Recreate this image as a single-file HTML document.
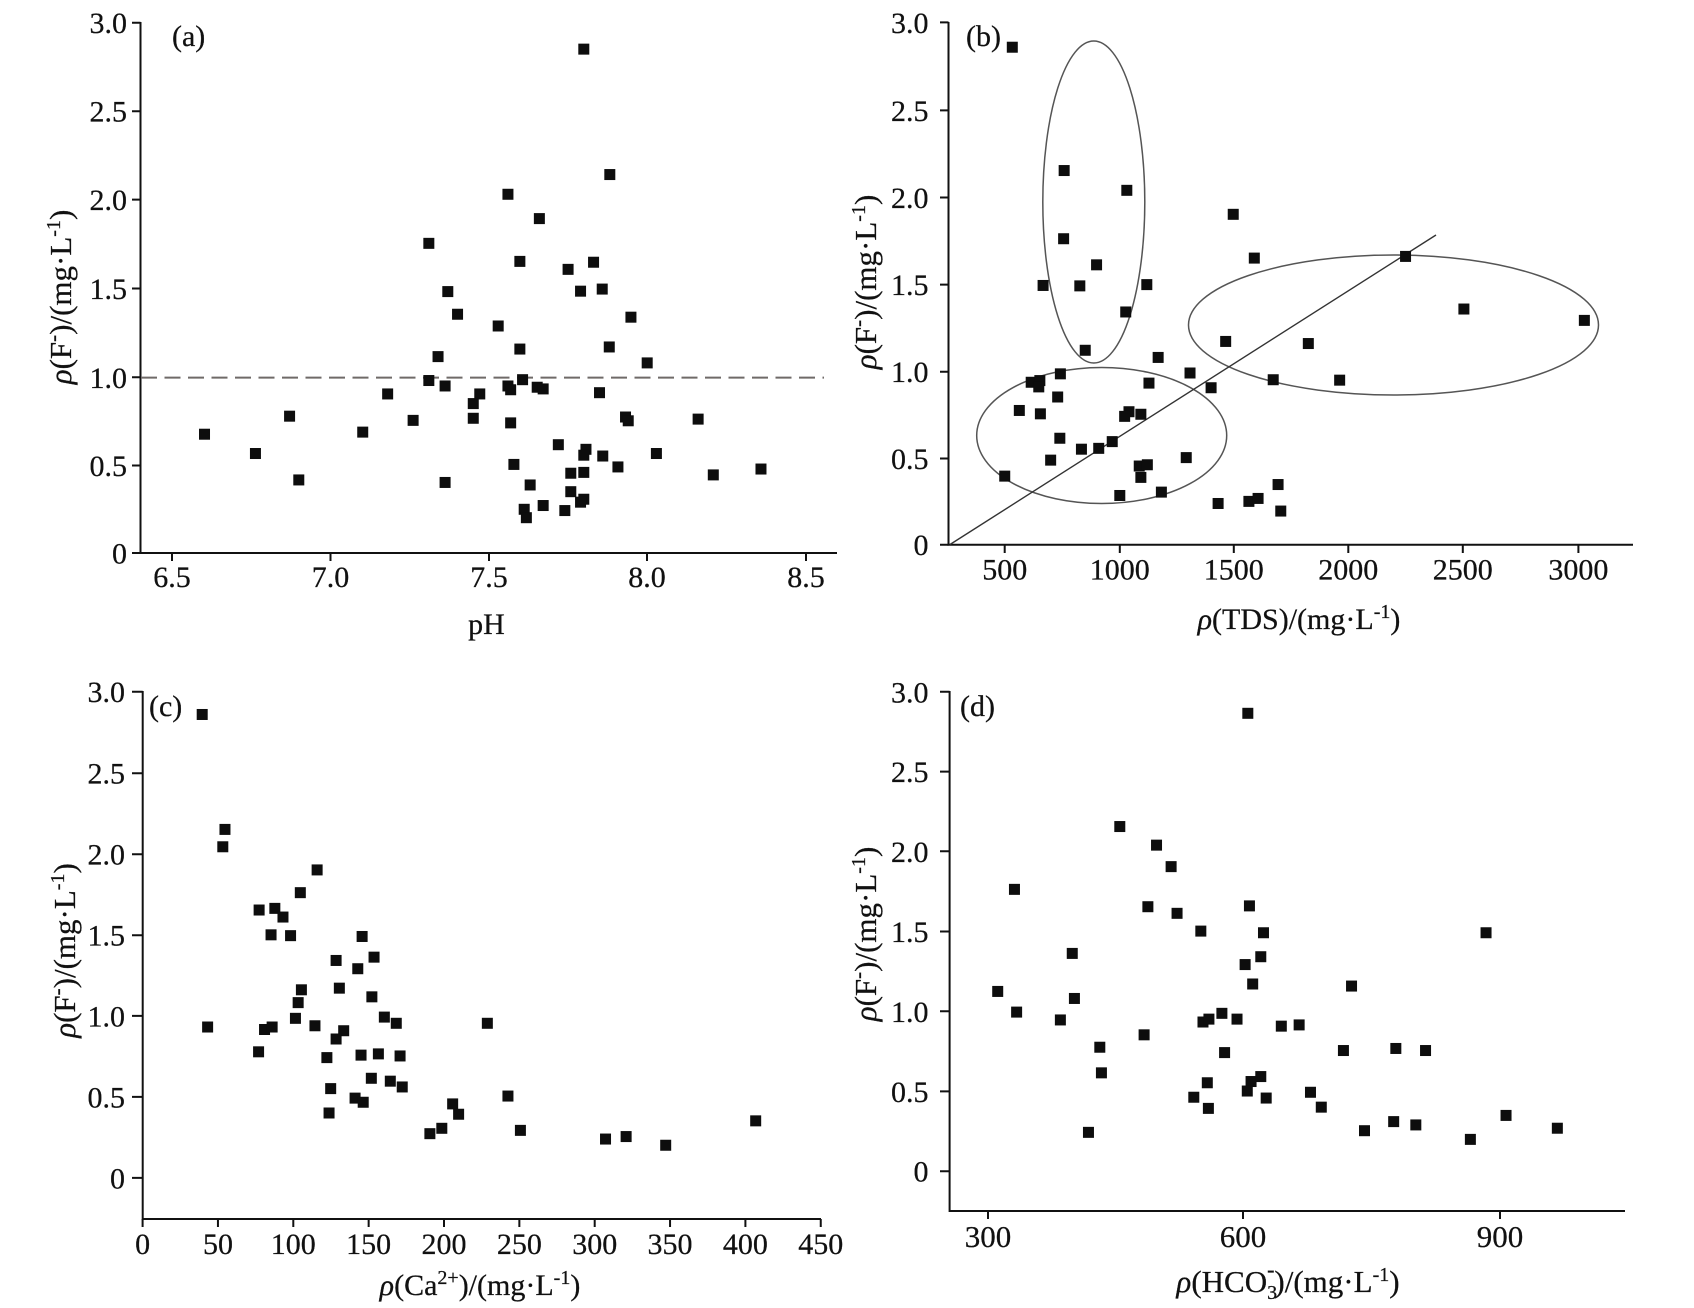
<!DOCTYPE html>
<html>
<head>
<meta charset="utf-8">
<style>
  html,body{margin:0;padding:0;background:#fff;}
  svg{display:block;}
  text{font-family:"Liberation Serif","DejaVu Serif",serif;fill:#111;stroke:#111;stroke-width:0.25;}
</style>
</head>
<body>
<svg width="1694" height="1308" viewBox="0 0 1694 1308" xmlns="http://www.w3.org/2000/svg">
<defs>
  <rect id="sa" x="-10.15" y="-13.11" width="20.3" height="26.22" fill="#0d0d0d"/>
  <rect id="sb" x="-10.18" y="-13.07" width="20.36" height="26.13" fill="#0d0d0d"/>
  <rect id="sc" x="-10.15" y="-13.3" width="20.29" height="26.61" fill="#0d0d0d"/>
  <rect id="sd" x="-10.18" y="-13.31" width="20.36" height="26.62" fill="#0d0d0d"/>
</defs>
<rect width="1694" height="1308" fill="#fff"/>

<!-- ================= PANEL (a) ================= -->
<g stroke="#111" stroke-width="2" fill="none">
  <path d="M140.5 22 V553 H837"/>
  <path d="M132 22.7H140.5 M132 111.2H140.5 M132 199.6H140.5 M132 288.5H140.5 M132 377.3H140.5 M132 465.5H140.5 M132 553H140.5"/>
  <path d="M172 553V561 M330.5 553V561 M489 553V561 M647 553V561 M806 553V561"/>
</g>
<line x1="141" y1="377.6" x2="824" y2="377.6" stroke="#6f6a68" stroke-width="2" stroke-dasharray="16 7.5"/>
<g font-size="30" text-anchor="end">
  <text x="127" y="33.2">3.0</text>
  <text x="127" y="121.7">2.5</text>
  <text x="127" y="210.1">2.0</text>
  <text x="127" y="299">1.5</text>
  <text x="127" y="387.8">1.0</text>
  <text x="127" y="476">0.5</text>
  <text x="127" y="563.5">0</text>
</g>
<g font-size="30" text-anchor="middle">
  <text x="172" y="587">6.5</text>
  <text x="330.5" y="587">7.0</text>
  <text x="489" y="587">7.5</text>
  <text x="647" y="587">8.0</text>
  <text x="806" y="587">8.5</text>
  <text x="486.5" y="634">pH</text>
</g>
<text x="172" y="46" font-size="30">(a)</text>
<text transform="translate(71,297) rotate(-90)" font-size="31" text-anchor="middle"><tspan font-style="italic">ρ</tspan>(F<tspan dy="-11" font-size="21">-</tspan><tspan dy="11">)/(mg·L</tspan><tspan dy="-11" font-size="20">-1</tspan><tspan dy="11">)</tspan></text>

<g transform="matrix(0.54184 0 0 0.41948 0.78 1.73)">
  <use href="#sa" x="1076" y="113"/>
  <use href="#sa" x="1124" y="412"/>
  <use href="#sa" x="936" y="459"/>
  <use href="#sa" x="994" y="517"/>
  <use href="#sa" x="790" y="576"/>
  <use href="#sa" x="958" y="619"/>
  <use href="#sa" x="1047" y="638"/>
  <use href="#sa" x="1094" y="621"/>
  <use href="#sa" x="825" y="691"/>
  <use href="#sa" x="1070" y="690"/>
  <use href="#sa" x="1110" y="685"/>
  <use href="#sa" x="843" y="745"/>
  <use href="#sa" x="918" y="773"/>
  <use href="#sa" x="1163" y="752"/>
  <use href="#sa" x="807" y="846"/>
  <use href="#sa" x="958" y="828"/>
  <use href="#sa" x="1123" y="823"/>
  <use href="#sa" x="1193" y="861"/>
  <use href="#sa" x="790" y="903"/>
  <use href="#sa" x="820" y="916"/>
  <use href="#sa" x="936" y="916"/>
  <use href="#sa" x="941" y="925"/>
  <use href="#sa" x="963" y="901"/>
  <use href="#sa" x="990" y="919"/>
  <use href="#sa" x="1001" y="923"/>
  <use href="#sa" x="714" y="935"/>
  <use href="#sa" x="884" y="935"/>
  <use href="#sa" x="1105" y="932"/>
  <use href="#sa" x="872" y="958"/>
  <use href="#sa" x="533" y="988"/>
  <use href="#sa" x="761" y="998"/>
  <use href="#sa" x="872" y="993"/>
  <use href="#sa" x="941" y="1004"/>
  <use href="#sa" x="1153" y="990"/>
  <use href="#sa" x="1158" y="999"/>
  <use href="#sa" x="1287" y="995"/>
  <use href="#sa" x="376" y="1031"/>
  <use href="#sa" x="668" y="1026"/>
  <use href="#sa" x="1029" y="1056"/>
  <use href="#sa" x="1080" y="1067"/>
  <use href="#sa" x="1076" y="1081"/>
  <use href="#sa" x="470" y="1077"/>
  <use href="#sa" x="1111" y="1083"/>
  <use href="#sa" x="1210" y="1077"/>
  <use href="#sa" x="947" y="1103"/>
  <use href="#sa" x="1139" y="1109"/>
  <use href="#sa" x="1403" y="1114"/>
  <use href="#sa" x="1052" y="1124"/>
  <use href="#sa" x="1076" y="1122"/>
  <use href="#sa" x="550" y="1140"/>
  <use href="#sa" x="820" y="1146"/>
  <use href="#sa" x="1315" y="1128"/>
  <use href="#sa" x="977" y="1152"/>
  <use href="#sa" x="1052" y="1168"/>
  <use href="#sa" x="1076" y="1186"/>
  <use href="#sa" x="1070" y="1193"/>
  <use href="#sa" x="966" y="1210"/>
  <use href="#sa" x="970" y="1230"/>
  <use href="#sa" x="1001" y="1201"/>
  <use href="#sa" x="1041" y="1213"/>
</g>

<!-- ================= PANEL (b) ================= -->
<g stroke="#111" stroke-width="2" fill="none">
  <path d="M948.5 22 V544.7 H1633"/>
  <path d="M940 22.4H948.5 M940 110.4H948.5 M940 197.5H948.5 M940 284.6H948.5 M940 371.7H948.5 M940 458.5H948.5 M940 544.7H948.5"/>
  <path d="M1004.7 544.7V553 M1119.8 544.7V553 M1233.8 544.7V553 M1348.3 544.7V553 M1462.8 544.7V553 M1578.4 544.7V553"/>
</g>
<g fill="none" stroke="#555" stroke-width="1.5">
  <ellipse cx="1093.8" cy="202" rx="51" ry="161"/>
  <ellipse cx="1101.7" cy="435.5" rx="125" ry="68"/>
  <ellipse cx="1393.5" cy="325" rx="205" ry="70"/>
</g>
<line x1="950" y1="544.5" x2="1436" y2="235" stroke="#333" stroke-width="1.4"/>
<g font-size="30" text-anchor="end">
  <text x="928.5" y="32.9">3.0</text>
  <text x="928.5" y="120.9">2.5</text>
  <text x="928.5" y="208">2.0</text>
  <text x="928.5" y="295.1">1.5</text>
  <text x="928.5" y="382.2">1.0</text>
  <text x="928.5" y="469">0.5</text>
  <text x="928.5" y="555.2">0</text>
</g>
<g font-size="30" text-anchor="middle">
  <text x="1004.7" y="579.7">500</text>
  <text x="1119.8" y="579.7">1000</text>
  <text x="1233.8" y="579.7">1500</text>
  <text x="1348.3" y="579.7">2000</text>
  <text x="1462.8" y="579.7">2500</text>
  <text x="1578.4" y="579.7">3000</text>
  <text x="1299" y="629"><tspan font-style="italic">ρ</tspan>(TDS)/(mg·L<tspan dy="-11" font-size="20">-1</tspan><tspan dy="11">)</tspan></text>
</g>
<text x="966" y="46" font-size="30">(b)</text>
<text transform="translate(876,282) rotate(-90)" font-size="31" text-anchor="middle"><tspan font-style="italic">ρ</tspan>(F<tspan dy="-11" font-size="21">-</tspan><tspan dy="11">)/(mg·L</tspan><tspan dy="-11" font-size="20">-1</tspan><tspan dy="11">)</tspan></text>

<g transform="matrix(0.54019 0 0 0.42091 847 0.5)">
  <use href="#sb" x="306" y="111"/>
  <use href="#sb" x="402" y="404"/>
  <use href="#sb" x="518" y="451"/>
  <use href="#sb" x="715" y="508"/>
  <use href="#sb" x="401" y="566"/>
  <use href="#sb" x="754" y="612"/>
  <use href="#sb" x="462" y="628"/>
  <use href="#sb" x="1034" y="608"/>
  <use href="#sb" x="363" y="677"/>
  <use href="#sb" x="431" y="678"/>
  <use href="#sb" x="555" y="675"/>
  <use href="#sb" x="516" y="740"/>
  <use href="#sb" x="1142" y="733"/>
  <use href="#sb" x="1365" y="760"/>
  <use href="#sb" x="701" y="810"/>
  <use href="#sb" x="854" y="815"/>
  <use href="#sb" x="441" y="831"/>
  <use href="#sb" x="576" y="848"/>
  <use href="#sb" x="635" y="885"/>
  <use href="#sb" x="395" y="887"/>
  <use href="#sb" x="341" y="907"/>
  <use href="#sb" x="357" y="903"/>
  <use href="#sb" x="355" y="918"/>
  <use href="#sb" x="559" y="909"/>
  <use href="#sb" x="789" y="901"/>
  <use href="#sb" x="912" y="902"/>
  <use href="#sb" x="674" y="920"/>
  <use href="#sb" x="390" y="942"/>
  <use href="#sb" x="319" y="974"/>
  <use href="#sb" x="358" y="982"/>
  <use href="#sb" x="522" y="977"/>
  <use href="#sb" x="514" y="988"/>
  <use href="#sb" x="544" y="983"/>
  <use href="#sb" x="394" y="1040"/>
  <use href="#sb" x="491" y="1048"/>
  <use href="#sb" x="434" y="1066"/>
  <use href="#sb" x="466" y="1064"/>
  <use href="#sb" x="377" y="1092"/>
  <use href="#sb" x="628" y="1086"/>
  <use href="#sb" x="541" y="1106"/>
  <use href="#sb" x="556" y="1103"/>
  <use href="#sb" x="544" y="1133"/>
  <use href="#sb" x="292" y="1130"/>
  <use href="#sb" x="798" y="1150"/>
  <use href="#sb" x="582" y="1168"/>
  <use href="#sb" x="505" y="1176"/>
  <use href="#sb" x="687" y="1195"/>
  <use href="#sb" x="744" y="1190"/>
  <use href="#sb" x="761" y="1183"/>
  <use href="#sb" x="803" y="1213"/>
</g>

<!-- ================= PANEL (c) ================= -->
<g stroke="#111" stroke-width="2" fill="none">
  <path d="M142.7 691 V1219 H821"/>
  <path d="M132 691.7H142.7 M132 773.2H142.7 M132 854.2H142.7 M132 935.2H142.7 M132 1015.9H142.7 M132 1096.9H142.7 M132 1177.9H142.7"/>
  <path d="M142.6 1219V1227 M217.95 1219V1227 M293.3 1219V1227 M368.65 1219V1227 M444 1219V1227 M519.35 1219V1227 M594.7 1219V1227 M670.05 1219V1227 M745.4 1219V1227 M820.75 1219V1227"/>
</g>
<g font-size="30" text-anchor="end">
  <text x="125" y="702.2">3.0</text>
  <text x="125" y="783.7">2.5</text>
  <text x="125" y="864.7">2.0</text>
  <text x="125" y="945.7">1.5</text>
  <text x="125" y="1026.4">1.0</text>
  <text x="125" y="1107.4">0.5</text>
  <text x="125" y="1188.4">0</text>
</g>
<g font-size="30" text-anchor="middle">
  <text x="142.6" y="1254">0</text>
  <text x="217.95" y="1254">50</text>
  <text x="293.3" y="1254">100</text>
  <text x="368.65" y="1254">150</text>
  <text x="444" y="1254">200</text>
  <text x="519.35" y="1254">250</text>
  <text x="594.7" y="1254">300</text>
  <text x="670.05" y="1254">350</text>
  <text x="745.4" y="1254">400</text>
  <text x="820.75" y="1254">450</text>
  <text x="480" y="1295"><tspan font-style="italic">ρ</tspan>(Ca<tspan dy="-11" font-size="20">2+</tspan><tspan dy="11">)/(mg·L</tspan><tspan dy="-11" font-size="20">-1</tspan><tspan dy="11">)</tspan></text>
</g>
<text x="149" y="716" font-size="30">(c)</text>
<text transform="translate(75,950.5) rotate(-90)" font-size="31" text-anchor="middle"><tspan font-style="italic">ρ</tspan>(F<tspan dy="-11" font-size="21">-</tspan><tspan dy="11">)/(mg·L</tspan><tspan dy="-11" font-size="20">-1</tspan><tspan dy="11">)</tspan></text>

<g transform="matrix(0.5421 0 0 0.4134 0 659.5)">
  <use href="#sc" x="373" y="133"/>
  <use href="#sc" x="415" y="411"/>
  <use href="#sc" x="411" y="453"/>
  <use href="#sc" x="585" y="509"/>
  <use href="#sc" x="554" y="564"/>
  <use href="#sc" x="478" y="606"/>
  <use href="#sc" x="507" y="602"/>
  <use href="#sc" x="522" y="623"/>
  <use href="#sc" x="500" y="666"/>
  <use href="#sc" x="536" y="668"/>
  <use href="#sc" x="668" y="670"/>
  <use href="#sc" x="690" y="720"/>
  <use href="#sc" x="620" y="728"/>
  <use href="#sc" x="660" y="748"/>
  <use href="#sc" x="626" y="795"/>
  <use href="#sc" x="556" y="799"/>
  <use href="#sc" x="686" y="816"/>
  <use href="#sc" x="550" y="830"/>
  <use href="#sc" x="709" y="865"/>
  <use href="#sc" x="545" y="868"/>
  <use href="#sc" x="383" y="889"/>
  <use href="#sc" x="488" y="895"/>
  <use href="#sc" x="502" y="889"/>
  <use href="#sc" x="581" y="886"/>
  <use href="#sc" x="731" y="880"/>
  <use href="#sc" x="899" y="880"/>
  <use href="#sc" x="634" y="898"/>
  <use href="#sc" x="620" y="918"/>
  <use href="#sc" x="477" y="949"/>
  <use href="#sc" x="603" y="963"/>
  <use href="#sc" x="666" y="957"/>
  <use href="#sc" x="698" y="954"/>
  <use href="#sc" x="738" y="959"/>
  <use href="#sc" x="685" y="1013"/>
  <use href="#sc" x="720" y="1020"/>
  <use href="#sc" x="742" y="1034"/>
  <use href="#sc" x="610" y="1038"/>
  <use href="#sc" x="937" y="1056"/>
  <use href="#sc" x="655" y="1061"/>
  <use href="#sc" x="670" y="1071"/>
  <use href="#sc" x="835" y="1075"/>
  <use href="#sc" x="607" y="1097"/>
  <use href="#sc" x="846" y="1100"/>
  <use href="#sc" x="960" y="1139"/>
  <use href="#sc" x="793" y="1147"/>
  <use href="#sc" x="815" y="1134"/>
  <use href="#sc" x="1117" y="1160"/>
  <use href="#sc" x="1155" y="1154"/>
  <use href="#sc" x="1228" y="1175"/>
  <use href="#sc" x="1394" y="1116"/>
</g>

<!-- ================= PANEL (d) ================= -->
<g stroke="#111" stroke-width="2" fill="none">
  <path d="M949.6 691 V1211 H1625"/>
  <path d="M940 691.8H949.6 M940 771.6H949.6 M940 851.3H949.6 M940 931.5H949.6 M940 1011.3H949.6 M940 1091.4H949.6 M940 1171.2H949.6"/>
  <path d="M988 1211V1219 M1243 1211V1219 M1500 1211V1219"/>
</g>
<g font-size="30" text-anchor="end">
  <text x="928.5" y="702.3">3.0</text>
  <text x="928.5" y="782.1">2.5</text>
  <text x="928.5" y="861.8">2.0</text>
  <text x="928.5" y="942">1.5</text>
  <text x="928.5" y="1021.8">1.0</text>
  <text x="928.5" y="1101.9">0.5</text>
  <text x="928.5" y="1181.7">0</text>
</g>
<g font-size="31" text-anchor="middle">
  <text x="988" y="1247">300</text>
  <text x="1243" y="1247">600</text>
  <text x="1500" y="1247">900</text>
  <text x="1288" y="1292"><tspan font-style="italic">ρ</tspan>(HCO<tspan dy="7" font-size="20">3</tspan><tspan dx="-10" dy="-22" font-size="22" font-weight="bold">-</tspan><tspan dy="15">)/(mg·L</tspan><tspan dy="-11" font-size="20">-1</tspan><tspan dy="11">)</tspan></text>
</g>
<text x="960" y="716" font-size="30">(d)</text>
<text transform="translate(876,934) rotate(-90)" font-size="31" text-anchor="middle"><tspan font-style="italic">ρ</tspan>(F<tspan dy="-11" font-size="21">-</tspan><tspan dy="11">)/(mg·L</tspan><tspan dy="-11" font-size="20">-1</tspan><tspan dy="11">)</tspan></text>

<g transform="matrix(0.54019 0 0 0.41326 847 660)">
  <use href="#sd" x="742" y="129"/>
  <use href="#sd" x="505" y="403"/>
  <use href="#sd" x="573" y="448"/>
  <use href="#sd" x="600" y="500"/>
  <use href="#sd" x="310" y="555"/>
  <use href="#sd" x="557" y="597"/>
  <use href="#sd" x="745" y="595"/>
  <use href="#sd" x="611" y="613"/>
  <use href="#sd" x="655" y="656"/>
  <use href="#sd" x="771" y="660"/>
  <use href="#sd" x="1183" y="660"/>
  <use href="#sd" x="417" y="710"/>
  <use href="#sd" x="766" y="718"/>
  <use href="#sd" x="737" y="737"/>
  <use href="#sd" x="751" y="784"/>
  <use href="#sd" x="934" y="789"/>
  <use href="#sd" x="279" y="802"/>
  <use href="#sd" x="421" y="819"/>
  <use href="#sd" x="314" y="852"/>
  <use href="#sd" x="395" y="871"/>
  <use href="#sd" x="694" y="855"/>
  <use href="#sd" x="722" y="869"/>
  <use href="#sd" x="659" y="876"/>
  <use href="#sd" x="670" y="869"/>
  <use href="#sd" x="804" y="886"/>
  <use href="#sd" x="837" y="883"/>
  <use href="#sd" x="550" y="907"/>
  <use href="#sd" x="468" y="937"/>
  <use href="#sd" x="699" y="950"/>
  <use href="#sd" x="919" y="945"/>
  <use href="#sd" x="1016" y="940"/>
  <use href="#sd" x="1071" y="945"/>
  <use href="#sd" x="471" y="999"/>
  <use href="#sd" x="667" y="1023"/>
  <use href="#sd" x="748" y="1020"/>
  <use href="#sd" x="766" y="1008"/>
  <use href="#sd" x="741" y="1043"/>
  <use href="#sd" x="642" y="1058"/>
  <use href="#sd" x="776" y="1060"/>
  <use href="#sd" x="858" y="1046"/>
  <use href="#sd" x="669" y="1085"/>
  <use href="#sd" x="878" y="1082"/>
  <use href="#sd" x="447" y="1143"/>
  <use href="#sd" x="958" y="1139"/>
  <use href="#sd" x="1012" y="1117"/>
  <use href="#sd" x="1053" y="1125"/>
  <use href="#sd" x="1220" y="1102"/>
  <use href="#sd" x="1154" y="1160"/>
  <use href="#sd" x="1315" y="1133"/>
</g>
</svg>
</body>
</html>
